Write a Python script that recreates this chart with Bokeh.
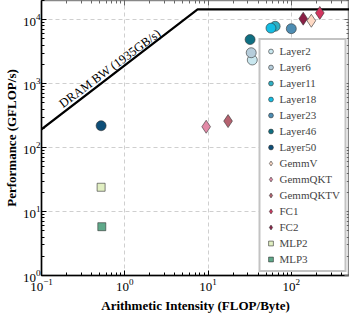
import math
from bokeh.plotting import figure
from bokeh.models import LogAxis, Legend, LegendItem, Range1d, FixedTicker
from bokeh.core.properties import value
from bokeh.embed import file_html
from bokeh.resources import INLINE

# ---- data ----
names = ["Layer2", "Layer6", "Layer11", "Layer18", "Layer23", "Layer46", "Layer50",
         "GemmV", "GemmQKT", "GemmQKTV", "FC1", "FC2", "MLP2", "MLP3"]
intensity = [34, 33, 64, 57, 100, 32, 0.52,
             174, 9.5, 17.4, 220, 139, 0.52, 0.53]
performance = [2350, 3050, 7900, 7400, 7250, 4900, 220,
               9650, 212, 260, 12800, 10400, 24, 5.8]
markers = ["circle"] * 7 + ["diamond"] * 5 + ["square"] * 2
colors = ["#c9e7ef", "#b6cddb", "#2eafc3", "#14bde3", "#4d8db3", "#0f6f82", "#0d4e78",
          "#fed9c4", "#e28aa7", "#b5626f", "#d2355f", "#8a1f45", "#e1efc2", "#5fa98a"]

dram_bw = 1935.0      # GB/s
peak_perf = 14500.0   # GFLOP/s
roof_x = [0.1, peak_perf / dram_bw, 500]
roof_y = [dram_bw * roof_x[0], peak_perf, peak_perf]
roof_label = "DRAM BW (1935GB/s)"

FONT = "Liberation Serif"

p = figure(width=349, height=315, x_axis_type="log", y_axis_type="log",
           x_range=Range1d(0.1, 500), y_range=Range1d(1, 2e4),
           output_backend="svg", toolbar_location=None,
           min_border_left=0, min_border_right=0, min_border_top=0, min_border_bottom=0)
p.border_fill_color = "white"
p.outline_line_color = "#888888"
p.outline_line_width = 1.5
p.background_fill_color = "white"

major_x = [0.1, 1, 10, 100]
major_y = [1, 10, 100, 1000, 10000]

for ax in [p.xaxis[0], p.yaxis[0]]:
    ax.major_tick_in = 5
    ax.major_tick_out = 0
    ax.minor_tick_in = 3
    ax.minor_tick_out = 0
    ax.axis_line_color = "black"
    ax.axis_line_width = 1.5
    ax.major_tick_line_color = "black"
    ax.minor_tick_line_color = "black"
    ax.major_label_text_font = FONT
    ax.major_label_text_font_size = "13px"
    ax.major_label_text_color = "black"
    ax.axis_label_text_font = FONT
    ax.axis_label_text_font_style = "bold"
    ax.axis_label_text_font_size = "13px"
    ax.axis_label_text_color = "black"
p.xaxis[0].major_label_standoff = 3
p.yaxis[0].major_label_standoff = 1
p.xaxis[0].axis_label_standoff = 4
p.yaxis[0].axis_label_standoff = 1
p.xaxis[0].axis_label = "Arithmetic Intensity (FLOP/Byte)"
p.yaxis[0].axis_label = "Performance (GFLOP/s)"
p.xaxis[0].ticker.num_minor_ticks = 10
p.yaxis[0].ticker.num_minor_ticks = 10

top = LogAxis()
right = LogAxis()
for ax in [top, right]:
    ax.major_tick_in = 5
    ax.major_tick_out = 0
    ax.minor_tick_in = 3
    ax.minor_tick_out = 0
    ax.axis_line_color = "#888888"
    ax.major_tick_line_color = "#666666"
    ax.minor_tick_line_color = "#666666"
    ax.major_label_text_font_size = "1px"
    ax.major_label_text_alpha = 0
    ax.major_label_standoff = 0
    ax.ticker.num_minor_ticks = 10
p.add_layout(top, "above")
p.add_layout(right, "right")

p.xgrid.grid_line_color = "#cfcfcf"
p.ygrid.grid_line_color = "#cfcfcf"
p.xgrid.grid_line_dash = "4 3"
p.ygrid.grid_line_dash = "4 3"
p.xgrid.ticker = FixedTicker(ticks=major_x)
p.ygrid.ticker = FixedTicker(ticks=major_y)

# roofline
p.line(roof_x, roof_y, line_color="black", line_width=2.2)
lab_x = 0.19
p.text(x=[lab_x], y=[dram_bw * lab_x * 1.03], text=[roof_label],
       angle=math.radians(36.5), text_font=value(FONT), text_font_size="12.5px",
       text_color="black", text_baseline="bottom", text_align="left")

items = []
for n, xi, yi, m, c in zip(names, intensity, performance, markers, colors):
    size = {"circle": 10, "diamond": 13, "square": 8}[m]
    r = p.scatter([xi], [yi], marker=m, size=size, fill_color=c,
                  line_color="#333333", line_width=0.6)
    items.append(LegendItem(label=n, renderers=[r]))

legend = Legend(items=items, location="bottom_right", margin=3,
                label_text_font=FONT, label_text_font_size="11px",
                glyph_height=14, glyph_width=12, spacing=2, padding=4,
                label_standoff=3, label_height=14,
                border_line_color="#888888", border_line_width=2,
                background_fill_alpha=1.0)
p.add_layout(legend, "center")

open("out.html", "w").write(file_html(p, INLINE))
